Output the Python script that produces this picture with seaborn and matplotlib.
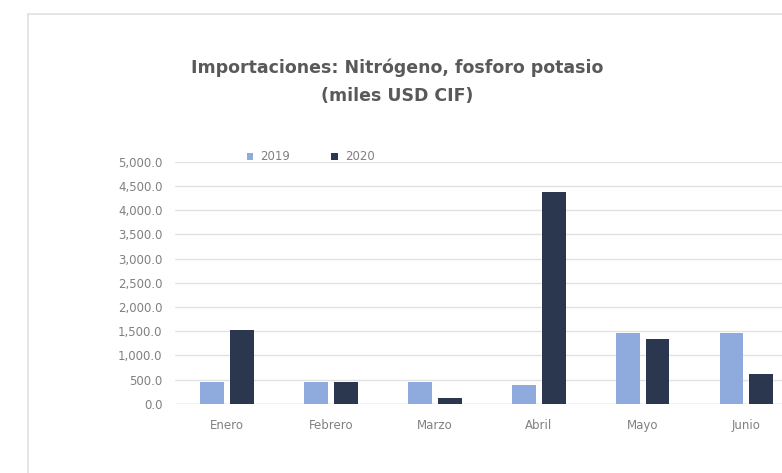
import matplotlib
matplotlib.use("Agg")
import matplotlib.pyplot as plt
from matplotlib.lines import Line2D
import seaborn as sns
import pandas as pd

# Monthly imports of nitrogen, phosphorus and potassium fertilizers (thousand USD CIF)
months = ["Enero", "Febrero", "Marzo", "Abril", "Mayo", "Junio"]
values_2019 = [460, 460, 460, 390, 1470, 1470]
values_2020 = [1520, 450, 130, 4380, 1340, 620]
years = ["2019", "2020"]
y_ticks = [0, 500, 1000, 1500, 2000, 2500, 3000, 3500, 4000, 4500, 5000]

df = pd.DataFrame({
    "Mes": months * 2,
    "Año": [years[0]] * len(months) + [years[1]] * len(months),
    "Valor": values_2019 + values_2020,
})

sns.set_theme(style="white")
plt.rcParams["font.family"] = ["DejaVu Sans"]

W, H = 782, 473
fig = plt.figure(figsize=(W / 100, H / 100), dpi=100)
fig.patch.set_facecolor("white")

# Axes extends beyond the right edge of the figure (the chart continues past the frame)
ax = fig.add_axes([175 / W, 69.2 / H, 623.4 / W, 242.1 / H])

palette = {"2019": "#8FAADC", "2020": "#2A374F"}
sns.barplot(data=df, x="Mes", y="Valor", hue="Año", order=months, hue_order=years,
            palette=palette, width=0.575, gap=0.2, saturation=1, ax=ax, legend=True,
            linewidth=0)

ax.set_xlim(-0.5, 5.5)
ax.set_ylim(0, 5000)
ax.set_yticks(y_ticks)
ax.set_yticklabels([f"{v:,.1f}" for v in y_ticks])
ax.set_xlabel("")
ax.set_ylabel("")
ax.yaxis.grid(True, color="#E3E3E3", linewidth=1.0)
ax.set_axisbelow(True)
for s in ax.spines.values():
    s.set_visible(False)
ax.axhline(0, color="#D9D9D9", linewidth=1.0, zorder=0.5)
ax.tick_params(axis="y", labelsize=8.5, labelcolor="#808080", pad=9, length=0)
ax.tick_params(axis="x", labelsize=8.5, labelcolor="#808080", pad=11, length=0)

leg = ax.legend(loc="center left", ncol=2, frameon=False,
                handlelength=0.55, handleheight=0.55, handletextpad=0.6,
                columnspacing=3.5, fontsize=8.5)
for t in leg.get_texts():
    t.set_color("#808080")
leg.set_bbox_to_anchor((236 / W, 1 - 157 / H), transform=fig.transFigure)

fig.text(397 / W, 1 - 68 / H, "Importaciones: Nitrógeno, fosforo potasio",
         ha="center", va="center", fontsize=12.5, fontweight="bold", color="#595959")
fig.text(397 / W, 1 - 96 / H, "(miles USD CIF)",
         ha="center", va="center", fontsize=12.5, fontweight="bold", color="#595959")

# Chart area frame (top and left edges visible)
fig.add_artist(Line2D([28 / W, 1.0], [1 - 14 / H, 1 - 14 / H], transform=fig.transFigure,
                      color="#E0E0E0", linewidth=1.2))
fig.add_artist(Line2D([28 / W, 28 / W], [0.0, 1 - 14 / H], transform=fig.transFigure,
                      color="#E0E0E0", linewidth=1.2))

fig.savefig("out.png", dpi=100)
